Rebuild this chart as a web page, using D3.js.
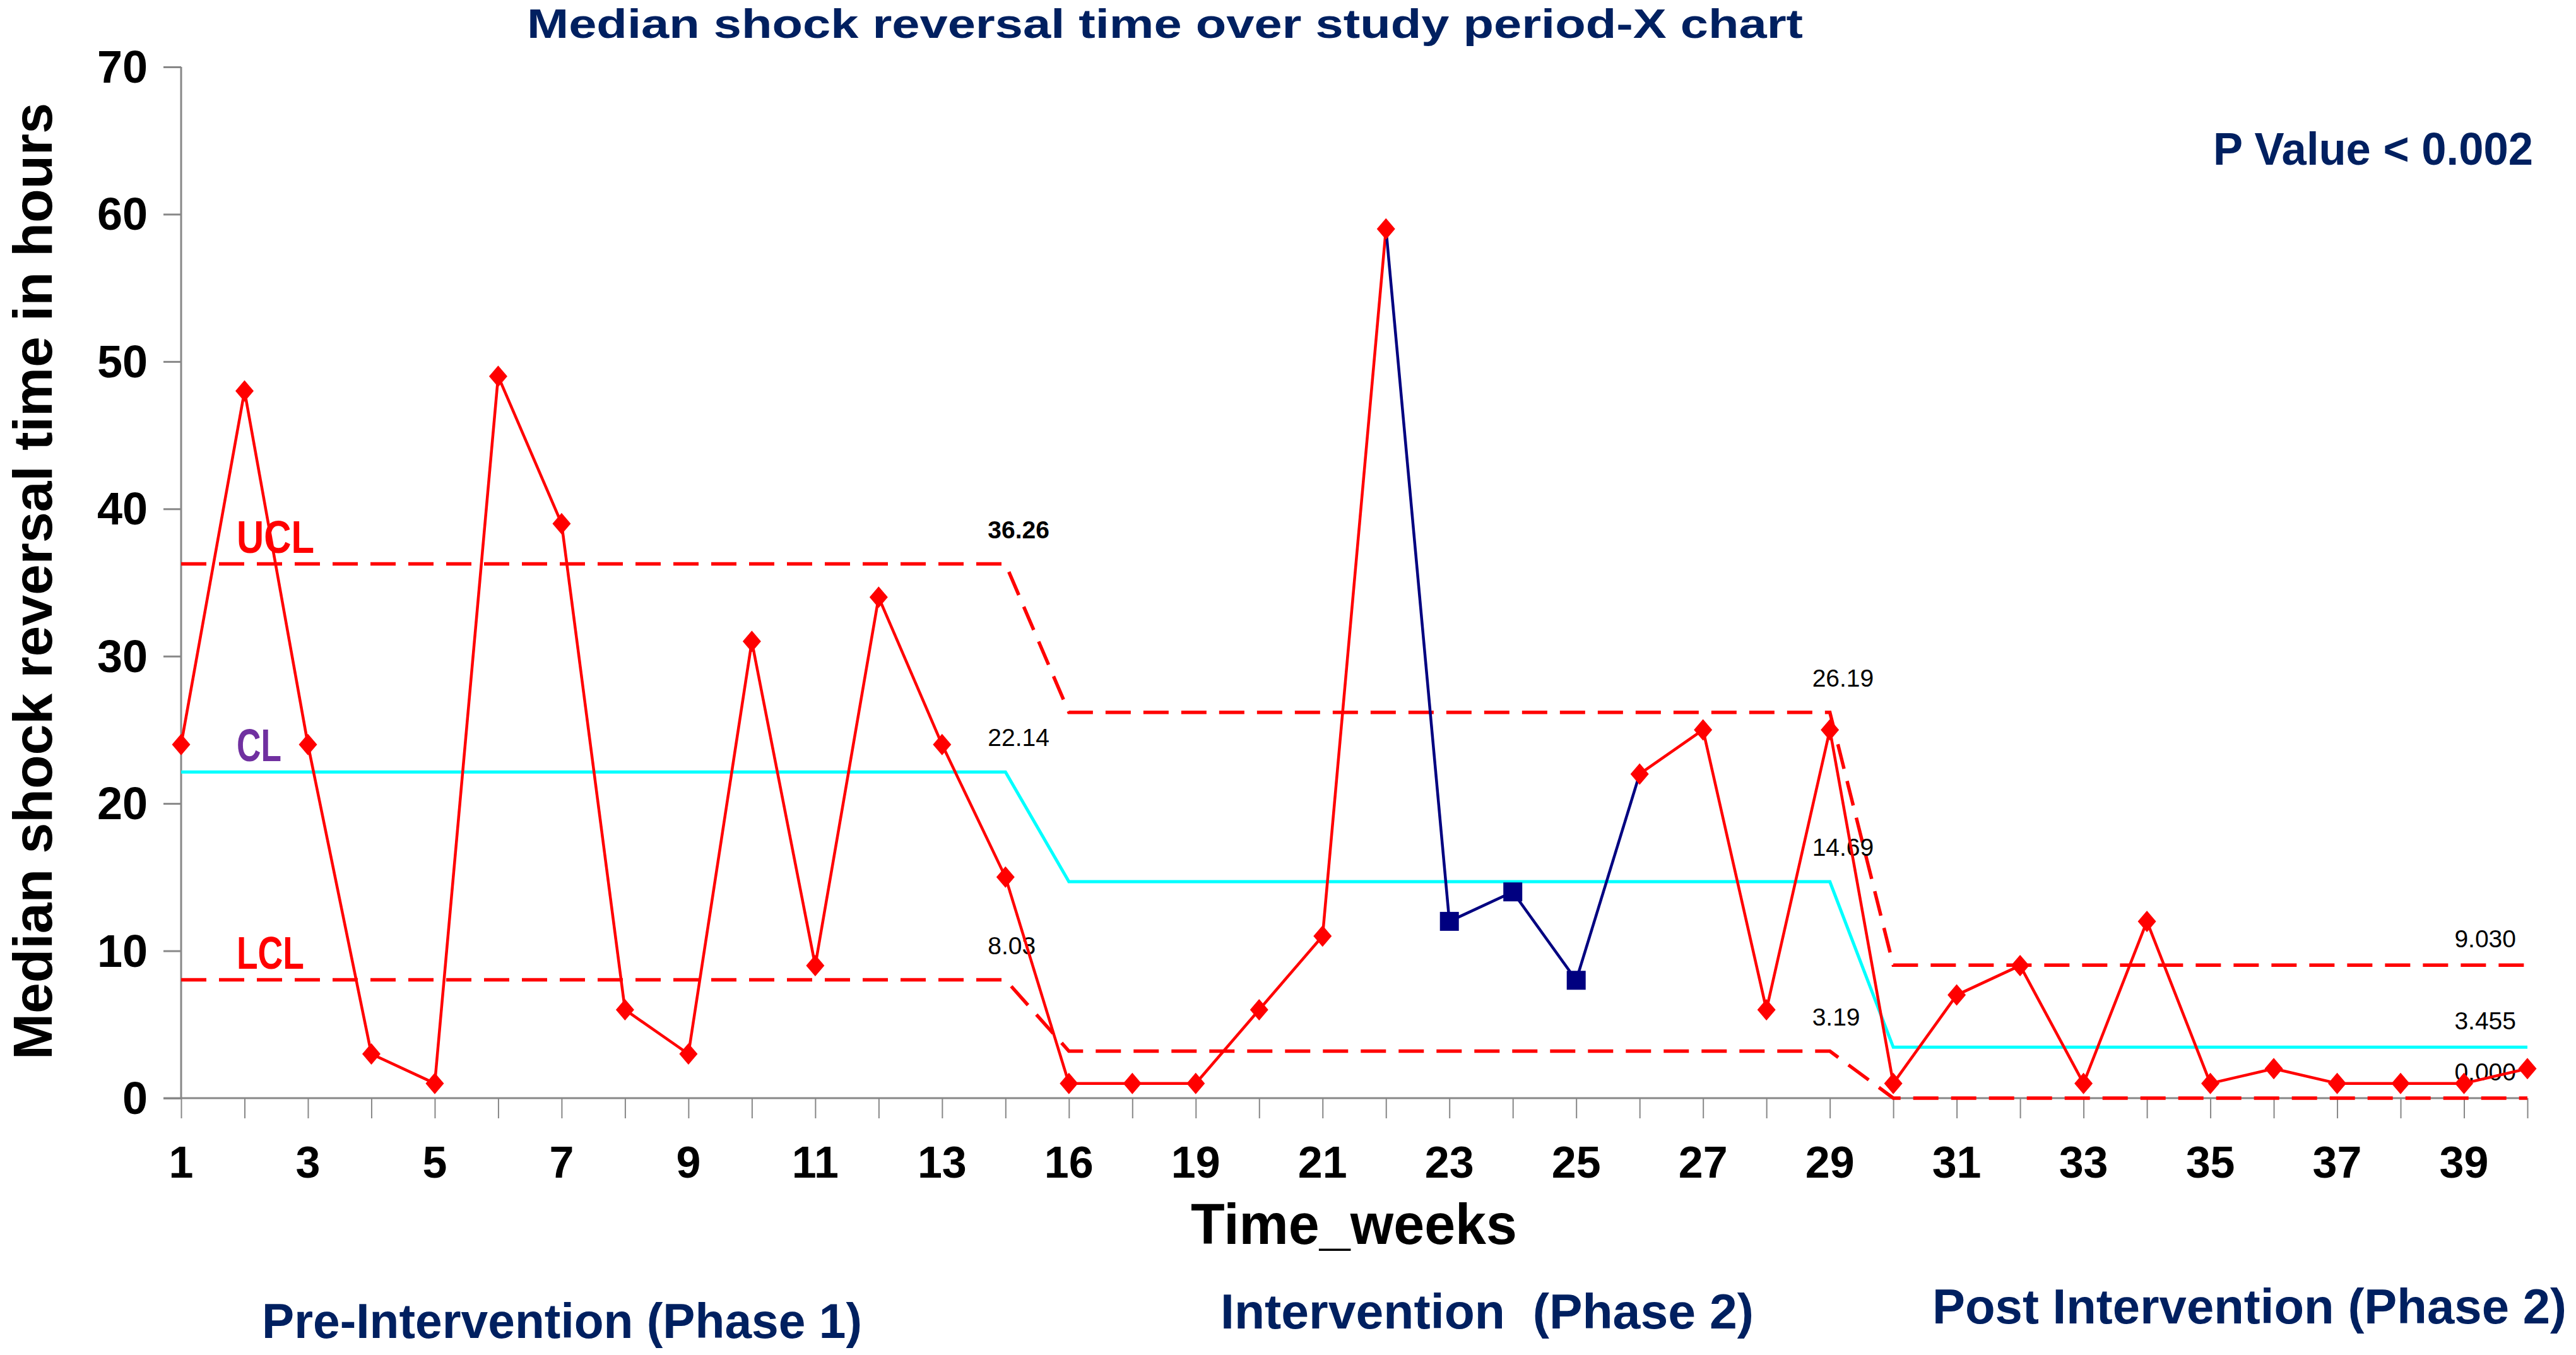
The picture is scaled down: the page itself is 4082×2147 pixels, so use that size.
<!DOCTYPE html>
<html>
<head>
<meta charset="utf-8">
<script src="https://cdn.jsdelivr.net/npm/d3@7"></script>
<style>
  html, body { margin: 0; padding: 0; background: #ffffff; }
  svg { display: block; }
  text { font-family: "Liberation Sans", Arial, sans-serif; }
</style>
</head>
<body>
<svg id="chart" width="4082" height="2147"></svg>
<script>
// ---------------- DATA ----------------
const weeks = ["1","2","3","4","5","6","7","8","9","10","11","12","13","14","16","17","19","20","21","22",
               "23","24","25","26","27","28","29","30","31","32","33","34","35","36","37","38","39","40"];
const hours = [24,48,24,3,1,49,39,6,3,31,9,34,24,15,1,1,1,6,11,59,
               12,14,8,22,25,6,25,1,7,9,1,12,1,2,1,1,1,2];
const flaggedWeeks = ["23","24","25"];           // plotted as navy squares
const yTicks = [0,10,20,30,40,50,60,70];

const phaseFirstWeek = ["1","16","30"];
const phaseLastWeek  = ["14","29","40"];
const uclValues = [36.26, 26.19, 9.030];
const clValues  = [22.14, 14.69, 3.455];
const lclValues = [8.03, 3.19, 0.000];
const uclLabels = ["36.26","26.19","9.030"];
const clLabels  = ["22.14","14.69","3.455"];
const lclLabels = ["8.03","3.19","0.000"];

const titleText = "Median shock reversal time over study period-X chart";
const pValueText = "P Value < 0.002";
const xTitle = "Time_weeks";
const yTitle = "Median shock reversal time in hours";
const phaseNames = ["Pre-Intervention (Phase 1)", "Intervention\u00a0\u00a0(Phase 2)", "Post Intervention (Phase 2)"];

// ---------------- LAYOUT ----------------
const svg = d3.select("#chart");
const RED = "#ff0000", NAVY = "#000080", CYAN = "#00ffff", DARKBLUE = "#002060", PURPLE = "#7030a0", AXIS = "#878787";

const x = d3.scalePoint().domain(weeks).range([287, 4005]).padding(0);
const y = d3.scaleLinear().domain([0, 70]).range([1740, 106]);

// Axes
const xAxis = d3.axisBottom(x).tickSize(32).tickPadding(0).tickFormat(() => "");
const gx = svg.append("g").attr("transform", `translate(0,${y(0)})`).call(xAxis);
gx.select(".domain").attr("stroke", AXIS).attr("stroke-width", 3).attr("d", `M259,0H${x("40")}`);
gx.selectAll(".tick line").attr("stroke", AXIS).attr("stroke-width", 2);

const yAxis = d3.axisLeft(y).tickValues(yTicks).tickSize(28).tickPadding(0).tickFormat(() => "");
const gy = svg.append("g").attr("transform", `translate(${x("1")},0)`).call(yAxis);
gy.select(".domain").attr("stroke", AXIS).attr("stroke-width", 3).attr("d", `M0,${y(70)}V${y(0)}`);
gy.selectAll(".tick line").attr("stroke", AXIS).attr("stroke-width", 3);

// Tick labels
svg.append("g").selectAll("text").data(yTicks).join("text")
  .attr("x", 234).attr("y", d => y(d) + 25)
  .attr("text-anchor", "end").attr("font-size", 72).attr("font-weight", "bold").attr("fill", "#000")
  .text(d => d);

svg.append("g").selectAll("text").data(weeks.filter((w, i) => i % 2 === 0)).join("text")
  .attr("x", d => x(d)).attr("y", 1866)
  .attr("text-anchor", "middle").attr("font-size", 70).attr("font-weight", "bold").attr("fill", "#000")
  .text(d => d);

// ---------------- CONTROL LIMITS ----------------
function stepPoints(values) {
  const pts = [];
  values.forEach((v, i) => {
    pts.push([x(phaseFirstWeek[i]), y(v)]);
    pts.push([x(phaseLastWeek[i]), y(v)]);
  });
  return pts;
}
const line = d3.line();
svg.append("path").attr("d", line(stepPoints(clValues)))
  .attr("fill", "none").attr("stroke", CYAN).attr("stroke-width", 5);
svg.append("path").attr("d", line(stepPoints(uclValues)))
  .attr("fill", "none").attr("stroke", RED).attr("stroke-width", 5.5).attr("stroke-dasharray", "40,20");
svg.append("path").attr("d", line(stepPoints(lclValues)))
  .attr("fill", "none").attr("stroke", RED).attr("stroke-width", 5.5).attr("stroke-dasharray", "40,20");

// limit value labels
function limitLabels(values, labels, bold) {
  svg.append("g").selectAll("text").data(values).join("text")
    .attr("x", (d, i) => i < 2 ? x(phaseLastWeek[i]) - 28 : x(phaseLastWeek[i]) - 18)
    .attr("y", (d, i) => i < 2 ? y(d) - 41 : y(d) - 28)
    .attr("text-anchor", (d, i) => i < 2 ? "start" : "end")
    .attr("font-size", 39)
    .attr("font-weight", (d, i) => (bold && i === 0) ? "bold" : "normal")
    .attr("fill", "#000")
    .text((d, i) => labels[i]);
}
limitLabels(uclValues, uclLabels, true);
limitLabels(clValues, clLabels, false);
limitLabels(lclValues, lclLabels, false);

// UCL / CL / LCL names
svg.append("text").attr("x", 375).attr("y", 876).attr("font-size", 72).attr("font-weight", "bold")
  .attr("fill", RED).attr("textLength", 123).attr("lengthAdjust", "spacingAndGlyphs").text("UCL");
svg.append("text").attr("x", 375).attr("y", 1206).attr("font-size", 72).attr("font-weight", "bold")
  .attr("fill", PURPLE).attr("textLength", 71).attr("lengthAdjust", "spacingAndGlyphs").text("CL");
svg.append("text").attr("x", 375).attr("y", 1535).attr("font-size", 72).attr("font-weight", "bold")
  .attr("fill", RED).attr("textLength", 107).attr("lengthAdjust", "spacingAndGlyphs").text("LCL");

// ---------------- DATA SERIES ----------------
const pts = weeks.map((w, i) => ({ w, v: hours[i], flag: flaggedWeeks.includes(w) }));
const segs = d3.pairs(pts);
svg.append("g").selectAll("line").data(segs).join("line")
  .attr("x1", d => x(d[0].w)).attr("y1", d => y(d[0].v))
  .attr("x2", d => x(d[1].w)).attr("y2", d => y(d[1].v))
  .attr("stroke", d => (d[0].flag || d[1].flag) ? NAVY : RED)
  .attr("stroke-width", 4.5);

const diamond = "M0,-17L14.5,0L0,17L-14.5,0Z";
svg.append("g").selectAll("path").data(pts.filter(p => !p.flag)).join("path")
  .attr("d", diamond).attr("transform", d => `translate(${x(d.w)},${y(d.v)})`).attr("fill", RED);
svg.append("g").selectAll("rect").data(pts.filter(p => p.flag)).join("rect")
  .attr("x", d => x(d.w) - 15).attr("y", d => y(d.v) - 15)
  .attr("width", 30).attr("height", 30).attr("fill", NAVY);

// ---------------- TITLES ----------------
svg.append("text").attr("x", 835).attr("y", 60).attr("font-size", 64).attr("font-weight", "bold")
  .attr("fill", DARKBLUE).attr("textLength", 2022).attr("lengthAdjust", "spacingAndGlyphs").text(titleText);
svg.append("text").attr("x", 3507).attr("y", 261).attr("font-size", 72).attr("font-weight", "bold")
  .attr("fill", DARKBLUE).attr("textLength", 507).attr("lengthAdjust", "spacingAndGlyphs").text(pValueText);
svg.append("text").attr("x", 1887).attr("y", 1971).attr("font-size", 90).attr("font-weight", "bold")
  .attr("fill", "#000").attr("textLength", 517).attr("lengthAdjust", "spacingAndGlyphs").text(xTitle);
svg.append("text").attr("transform", "translate(82,1679) rotate(-90)").attr("font-size", 88).attr("font-weight", "bold")
  .attr("fill", "#000").attr("textLength", 1516).attr("lengthAdjust", "spacingAndGlyphs").text(yTitle);

const phaseX = [415, 1934, 3062], phaseY = [2120, 2105, 2097], phaseW = [951, 845, 1005];
svg.append("g").selectAll("text").data(phaseNames).join("text")
  .attr("x", (d, i) => phaseX[i]).attr("y", (d, i) => phaseY[i])
  .attr("font-size", 78).attr("font-weight", "bold").attr("fill", DARKBLUE)
  .attr("textLength", (d, i) => phaseW[i]).attr("lengthAdjust", "spacingAndGlyphs")
  .text(d => d);
</script>
</body>
</html>
